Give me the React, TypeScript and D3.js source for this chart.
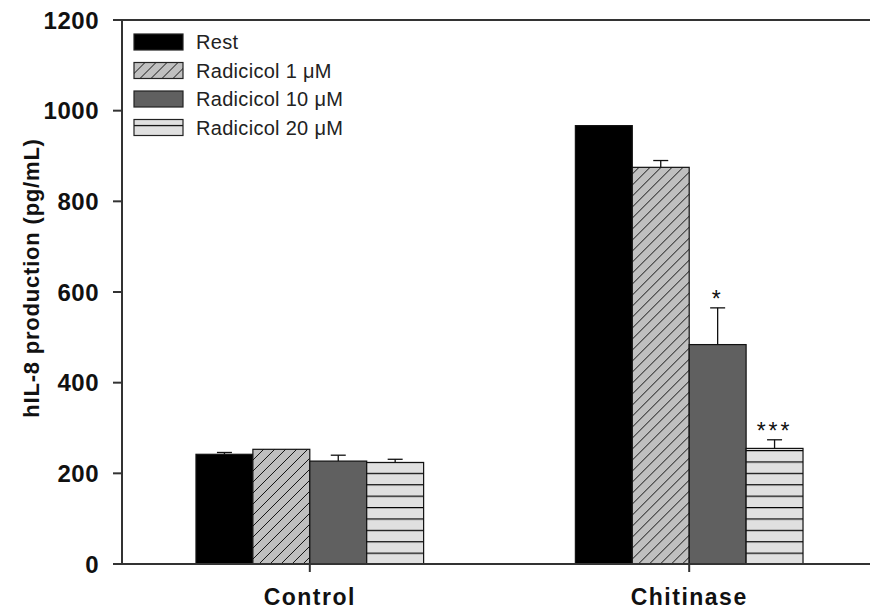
import * as d3 from 'd3';

const width = 870;
const height = 611;
const margin = { top: 20, right: 0, bottom: 47, left: 122 };

const groups = ['Control', 'Chitinase'];
const series = ['Rest', 'Radicicol 1 μM', 'Radicicol 10 μM', 'Radicicol 20 μM'];
// values per series, one entry per group
const rest = [242, 967];
const radicicol1 = [253, 875];
const radicicol10 = [227, 484];
const radicicol20 = [224, 255];
const restErr = [4, 0];
const radicicol1Err = [0, 15];
const radicicol10Err = [13, 81];
const radicicol20Err = [7, 19];
const marks10 = ['', '*'];
const marks20 = ['', '***'];
const yTicks = [0, 200, 400, 600, 800, 1000, 1200];

const values = [rest, radicicol1, radicicol10, radicicol20];
const errors = [restErr, radicicol1Err, radicicol10Err, radicicol20Err];
const marks = [['', ''], ['', ''], marks10, marks20];
const fills = ['#000000', 'url(#hatch)', '#606060', 'url(#hlines)'];

const axisColor = '#333';
const font = '"Liberation Sans", Arial, sans-serif';

export default function App() {
  const y = d3.scaleLinear().domain([0, 1200]).range([height - margin.bottom, margin.top]);
  const x = d3.scaleBand().domain(groups).range([margin.left, 877]).paddingInner(0.4).paddingOuter(0.195);
  const xs = d3.scaleBand().domain(series).range([0, x.bandwidth()]);
  const y0 = y(0);

  return (
    <svg width={width} height={height} style={{ position: 'absolute', left: 0, top: 0 }}>
      <defs>
        <pattern id="hatch" patternUnits="userSpaceOnUse" width={11} height={11}>
          <rect width={11} height={11} fill="#c0c0c0" />
          <path d="M0,11 L11,0 M-2,2 L2,-2 M9,13 L13,9" stroke="#000" strokeWidth={0.9} />
        </pattern>
        <pattern id="hlines" patternUnits="userSpaceOnUse" width={10} height={11.4}
          patternTransform={`translate(0, ${y0})`}>
          <rect width={10} height={11.4} fill="#e0e0e0" />
          <line x1={0} x2={10} y1={0.6} y2={0.6} stroke="#000" strokeWidth={1.2} />
        </pattern>
      </defs>

      {/* bars */}
      {groups.map((g, gi) => (
        <g key={g} transform={`translate(${x(g)},0)`}>
          {series.map((s, si) => {
            const v = values[si][gi];
            const e = errors[si][gi];
            const bx = xs(s)!;
            const cx = bx + xs.bandwidth() / 2;
            return (
              <g key={s}>
                <rect x={bx} y={y(v)} width={xs.bandwidth()} height={y0 - y(v)}
                  fill={fills[si]} stroke="#111" strokeWidth={1.2} />
                {e > 0 && (
                  <g stroke="#111" strokeWidth={1.3}>
                    <line x1={cx} x2={cx} y1={y(v)} y2={y(v + e)} />
                    <line x1={cx - 7.5} x2={cx + 7.5} y1={y(v + e)} y2={y(v + e)} />
                  </g>
                )}
                {marks[si][gi] && (
                  <text x={cx} y={y(v + e) - 1} textAnchor="middle" fontFamily={font}
                    fontSize={23} letterSpacing={3} fill="#111">{marks[si][gi]}</text>
                )}
              </g>
            );
          })}
        </g>
      ))}

      {/* axes */}
      <g stroke={axisColor} strokeWidth={2} fill="none">
        <line x1={margin.left} x2={margin.left} y1={margin.top} y2={y0} />
        <line x1={113} x2={width} y1={margin.top} y2={margin.top} />
        <line x1={113} x2={width} y1={y0} y2={y0} />
        {yTicks.map(t => (
          <line key={t} x1={113} x2={margin.left} y1={y(t)} y2={y(t)} />
        ))}
        {groups.map(g => (
          <line key={g} x1={x(g)! + x.bandwidth() / 2} x2={x(g)! + x.bandwidth() / 2} y1={y0} y2={y0 + 8} />
        ))}
      </g>
      {yTicks.map(t => (
        <text key={t} x={99} y={y(t)} dy="0.36em" textAnchor="end" fontFamily={font}
          fontWeight="bold" fontSize={24} letterSpacing={0.5} fill="#111">{t}</text>
      ))}
      {groups.map(g => (
        <text key={g} x={x(g)! + x.bandwidth() / 2} y={605} textAnchor="middle" fontFamily={font}
          fontWeight="bold" fontSize={23} letterSpacing={1.5} fill="#111">{g}</text>
      ))}
      <text transform={`translate(39, ${(margin.top + y0) / 2 - 14}) rotate(-90)`} textAnchor="middle"
        fontFamily={font} fontWeight="bold" fontSize={22} letterSpacing={0.8} fill="#111">hIL-8 production (pg/mL)</text>

      {/* legend */}
      {series.map((s, si) => (
        <g key={s} transform={`translate(134, ${34 + si * 28.5})`}>
          <rect width={49} height={16} fill={fills[si]} stroke="#222" strokeWidth={1.2} />
          <text x={62} y={15.3} fontFamily={font} fontSize={20} letterSpacing={0.3} fill="#222">{s}</text>
        </g>
      ))}
    </svg>
  );
}
